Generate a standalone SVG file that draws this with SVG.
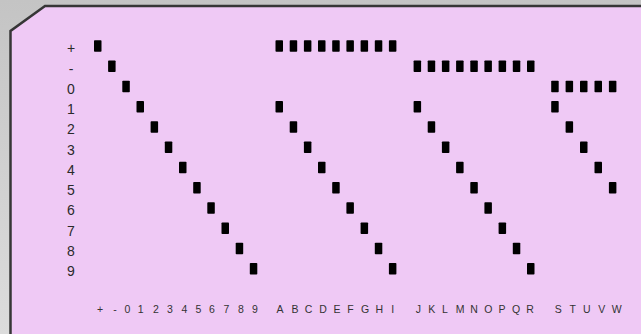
<svg xmlns="http://www.w3.org/2000/svg" width="641" height="334" viewBox="0 0 641 334">
<style>
.rl{font-family:"Liberation Sans",Arial,sans-serif;font-size:14px;fill:#2a2a2a;text-anchor:middle}
.cl{font-family:"Liberation Sans",Arial,sans-serif;font-size:10.5px;fill:#333;text-anchor:middle}
.h{fill:#000}
</style>
<defs>
<linearGradient id="bg" x1="0" y1="0" x2="0" y2="1">
<stop offset="0" stop-color="#c4c4c4"/>
<stop offset="1" stop-color="#dcdcdc"/>
</linearGradient>
<rect id="hole" width="7.5" height="11.5" rx="0.8"/>
</defs>
<rect width="641" height="334" fill="url(#bg)"/>
<g id="card">
<path d="M10.5 340 L10.5 31 L45 6 L650 6 L650 340 Z" fill="#efc9f5" stroke="#363636" stroke-width="2.5"/>
</g>
<g id="row-labels">
<text class="rl" x="71" y="53.3">+</text>
<text class="rl" x="71" y="73.5">-</text>
<text class="rl" x="71" y="93.8">0</text>
<text class="rl" x="71" y="114">1</text>
<text class="rl" x="71" y="134.3">2</text>
<text class="rl" x="71" y="154.5">3</text>
<text class="rl" x="71" y="174.8">4</text>
<text class="rl" x="71" y="195">5</text>
<text class="rl" x="71" y="215.3">6</text>
<text class="rl" x="71" y="235.5">7</text>
<text class="rl" x="71" y="255.8">8</text>
<text class="rl" x="71" y="276">9</text>
</g>
<g id="column-labels">
<text class="cl" x="100" y="313.3">+</text>
<text class="cl" x="115" y="313.3">-</text>
<text class="cl" x="127.3" y="313.3">0</text>
<text class="cl" x="140.7" y="313.3">1</text>
<text class="cl" x="156" y="313.3">2</text>
<text class="cl" x="170" y="313.3">3</text>
<text class="cl" x="184.3" y="313.3">4</text>
<text class="cl" x="198.3" y="313.3">5</text>
<text class="cl" x="212" y="313.3">6</text>
<text class="cl" x="226.5" y="313.3">7</text>
<text class="cl" x="241" y="313.3">8</text>
<text class="cl" x="255" y="313.3">9</text>
<text class="cl" x="280" y="313.3">A</text>
<text class="cl" x="295" y="313.3">B</text>
<text class="cl" x="308.5" y="313.3">C</text>
<text class="cl" x="323" y="313.3">D</text>
<text class="cl" x="337" y="313.3">E</text>
<text class="cl" x="350.5" y="313.3">F</text>
<text class="cl" x="365" y="313.3">G</text>
<text class="cl" x="379.3" y="313.3">H</text>
<text class="cl" x="392.7" y="313.3">I</text>
<text class="cl" x="418.3" y="313.3">J</text>
<text class="cl" x="431.7" y="313.3">K</text>
<text class="cl" x="445" y="313.3">L</text>
<text class="cl" x="460" y="313.3">M</text>
<text class="cl" x="474" y="313.3">N</text>
<text class="cl" x="488.3" y="313.3">O</text>
<text class="cl" x="502" y="313.3">P</text>
<text class="cl" x="516" y="313.3">Q</text>
<text class="cl" x="530" y="313.3">R</text>
<text class="cl" x="558.3" y="313.3">S</text>
<text class="cl" x="572.7" y="313.3">T</text>
<text class="cl" x="586.7" y="313.3">U</text>
<text class="cl" x="601.7" y="313.3">V</text>
<text class="cl" x="616.7" y="313.3">W</text>
</g>
<g id="holes" class="h">
<use href="#hole" x="94" y="40.2"/>
<use href="#hole" x="108.1" y="60.5"/>
<use href="#hole" x="122.3" y="80.7"/>
<use href="#hole" x="136.5" y="101"/>
<use href="#hole" x="150.6" y="121.2"/>
<use href="#hole" x="164.8" y="141.5"/>
<use href="#hole" x="179" y="161.7"/>
<use href="#hole" x="193.2" y="182"/>
<use href="#hole" x="207.3" y="202.2"/>
<use href="#hole" x="221.5" y="222.5"/>
<use href="#hole" x="235.7" y="242.7"/>
<use href="#hole" x="249.8" y="263"/>
<use href="#hole" x="275.5" y="40.2"/>
<use href="#hole" x="289.7" y="40.2"/>
<use href="#hole" x="303.9" y="40.2"/>
<use href="#hole" x="318" y="40.2"/>
<use href="#hole" x="332.2" y="40.2"/>
<use href="#hole" x="346.4" y="40.2"/>
<use href="#hole" x="360.6" y="40.2"/>
<use href="#hole" x="374.8" y="40.2"/>
<use href="#hole" x="388.9" y="40.2"/>
<use href="#hole" x="275.5" y="101"/>
<use href="#hole" x="289.7" y="121.2"/>
<use href="#hole" x="303.9" y="141.5"/>
<use href="#hole" x="318" y="161.7"/>
<use href="#hole" x="332.2" y="182"/>
<use href="#hole" x="346.4" y="202.2"/>
<use href="#hole" x="360.6" y="222.5"/>
<use href="#hole" x="374.8" y="242.7"/>
<use href="#hole" x="388.9" y="263"/>
<use href="#hole" x="413.6" y="60.5"/>
<use href="#hole" x="427.7" y="60.5"/>
<use href="#hole" x="441.9" y="60.5"/>
<use href="#hole" x="456.1" y="60.5"/>
<use href="#hole" x="470.3" y="60.5"/>
<use href="#hole" x="484.4" y="60.5"/>
<use href="#hole" x="498.6" y="60.5"/>
<use href="#hole" x="512.8" y="60.5"/>
<use href="#hole" x="527" y="60.5"/>
<use href="#hole" x="413.6" y="101"/>
<use href="#hole" x="427.7" y="121.2"/>
<use href="#hole" x="441.9" y="141.5"/>
<use href="#hole" x="456.1" y="161.7"/>
<use href="#hole" x="470.3" y="182"/>
<use href="#hole" x="484.4" y="202.2"/>
<use href="#hole" x="498.6" y="222.5"/>
<use href="#hole" x="512.8" y="242.7"/>
<use href="#hole" x="527" y="263"/>
<use href="#hole" x="551.2" y="80.7"/>
<use href="#hole" x="565.6" y="80.7"/>
<use href="#hole" x="580" y="80.7"/>
<use href="#hole" x="594.5" y="80.7"/>
<use href="#hole" x="608.9" y="80.7"/>
<use href="#hole" x="551.2" y="101"/>
<use href="#hole" x="565.6" y="121.2"/>
<use href="#hole" x="580" y="141.5"/>
<use href="#hole" x="594.5" y="161.7"/>
<use href="#hole" x="608.9" y="182"/>
</g>
</svg>
